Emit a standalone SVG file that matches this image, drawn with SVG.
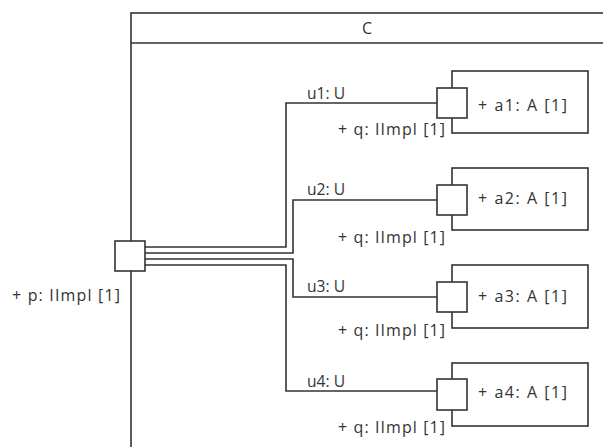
<svg xmlns="http://www.w3.org/2000/svg" width="603" height="447" viewBox="0 0 603 447">
<style>
.ln{fill:none;stroke:#333;stroke-width:1.6}
.box{fill:#fff;stroke:#333;stroke-width:1.6}
.t{font-family:"Open Sans","DejaVu Sans",sans-serif;font-size:16px;fill:#333}
</style>
<rect width="603" height="447" fill="#fff"/>
<g id="C">
<rect class="box" x="131" y="13" width="480" height="450"/>
<line class="ln" x1="131" y1="43" x2="603" y2="43"/>
<text class="t" x="367" y="34" text-anchor="middle">C</text>
</g>
<g id="connectors">
<path class="ln" d="M145,247 H286 V103 H437"/>
<path class="ln" d="M145,253 H293 V200 H437"/>
<path class="ln" d="M145,259 H293 V297 H437"/>
<path class="ln" d="M145,265 H286 V391 H437"/>
<text class="t" x="307" y="99" textLength="38" lengthAdjust="spacingAndGlyphs">u1: U</text>
<text class="t" x="307" y="195" textLength="38" lengthAdjust="spacingAndGlyphs">u2: U</text>
<text class="t" x="307" y="292" textLength="38" lengthAdjust="spacingAndGlyphs">u3: U</text>
<text class="t" x="307" y="387" textLength="38" lengthAdjust="spacingAndGlyphs">u4: U</text>
</g>
<g id="p">
<rect class="box" x="115" y="241" width="30" height="30"/>
<text class="t" x="12" y="301" textLength="108" lengthAdjust="spacing">+ p: IImpl [1]</text>
</g>
<g id="a1">
<rect class="box" x="452" y="71" width="136" height="62"/>
<rect class="box" x="437" y="88" width="30" height="30"/>
<text class="t" x="478" y="111" textLength="89" lengthAdjust="spacing">+ a1: A [1]</text>
<text class="t" x="338" y="135" textLength="107" lengthAdjust="spacing">+ q: IImpl [1]</text>
</g>
<g id="a2">
<rect class="box" x="452" y="168" width="136" height="62"/>
<rect class="box" x="437" y="185" width="30" height="30"/>
<text class="t" x="478" y="204" textLength="89" lengthAdjust="spacing">+ a2: A [1]</text>
<text class="t" x="338" y="243" textLength="107" lengthAdjust="spacing">+ q: IImpl [1]</text>
</g>
<g id="a3">
<rect class="box" x="452" y="265" width="136" height="63"/>
<rect class="box" x="437" y="282" width="30" height="30"/>
<text class="t" x="478" y="302" textLength="89" lengthAdjust="spacing">+ a3: A [1]</text>
<text class="t" x="338" y="336" textLength="107" lengthAdjust="spacing">+ q: IImpl [1]</text>
</g>
<g id="a4">
<rect class="box" x="452" y="363" width="136" height="63"/>
<rect class="box" x="437" y="379" width="30" height="31"/>
<text class="t" x="478" y="398" textLength="89" lengthAdjust="spacing">+ a4: A [1]</text>
<text class="t" x="338" y="433" textLength="107" lengthAdjust="spacing">+ q: IImpl [1]</text>
</g>
</svg>
